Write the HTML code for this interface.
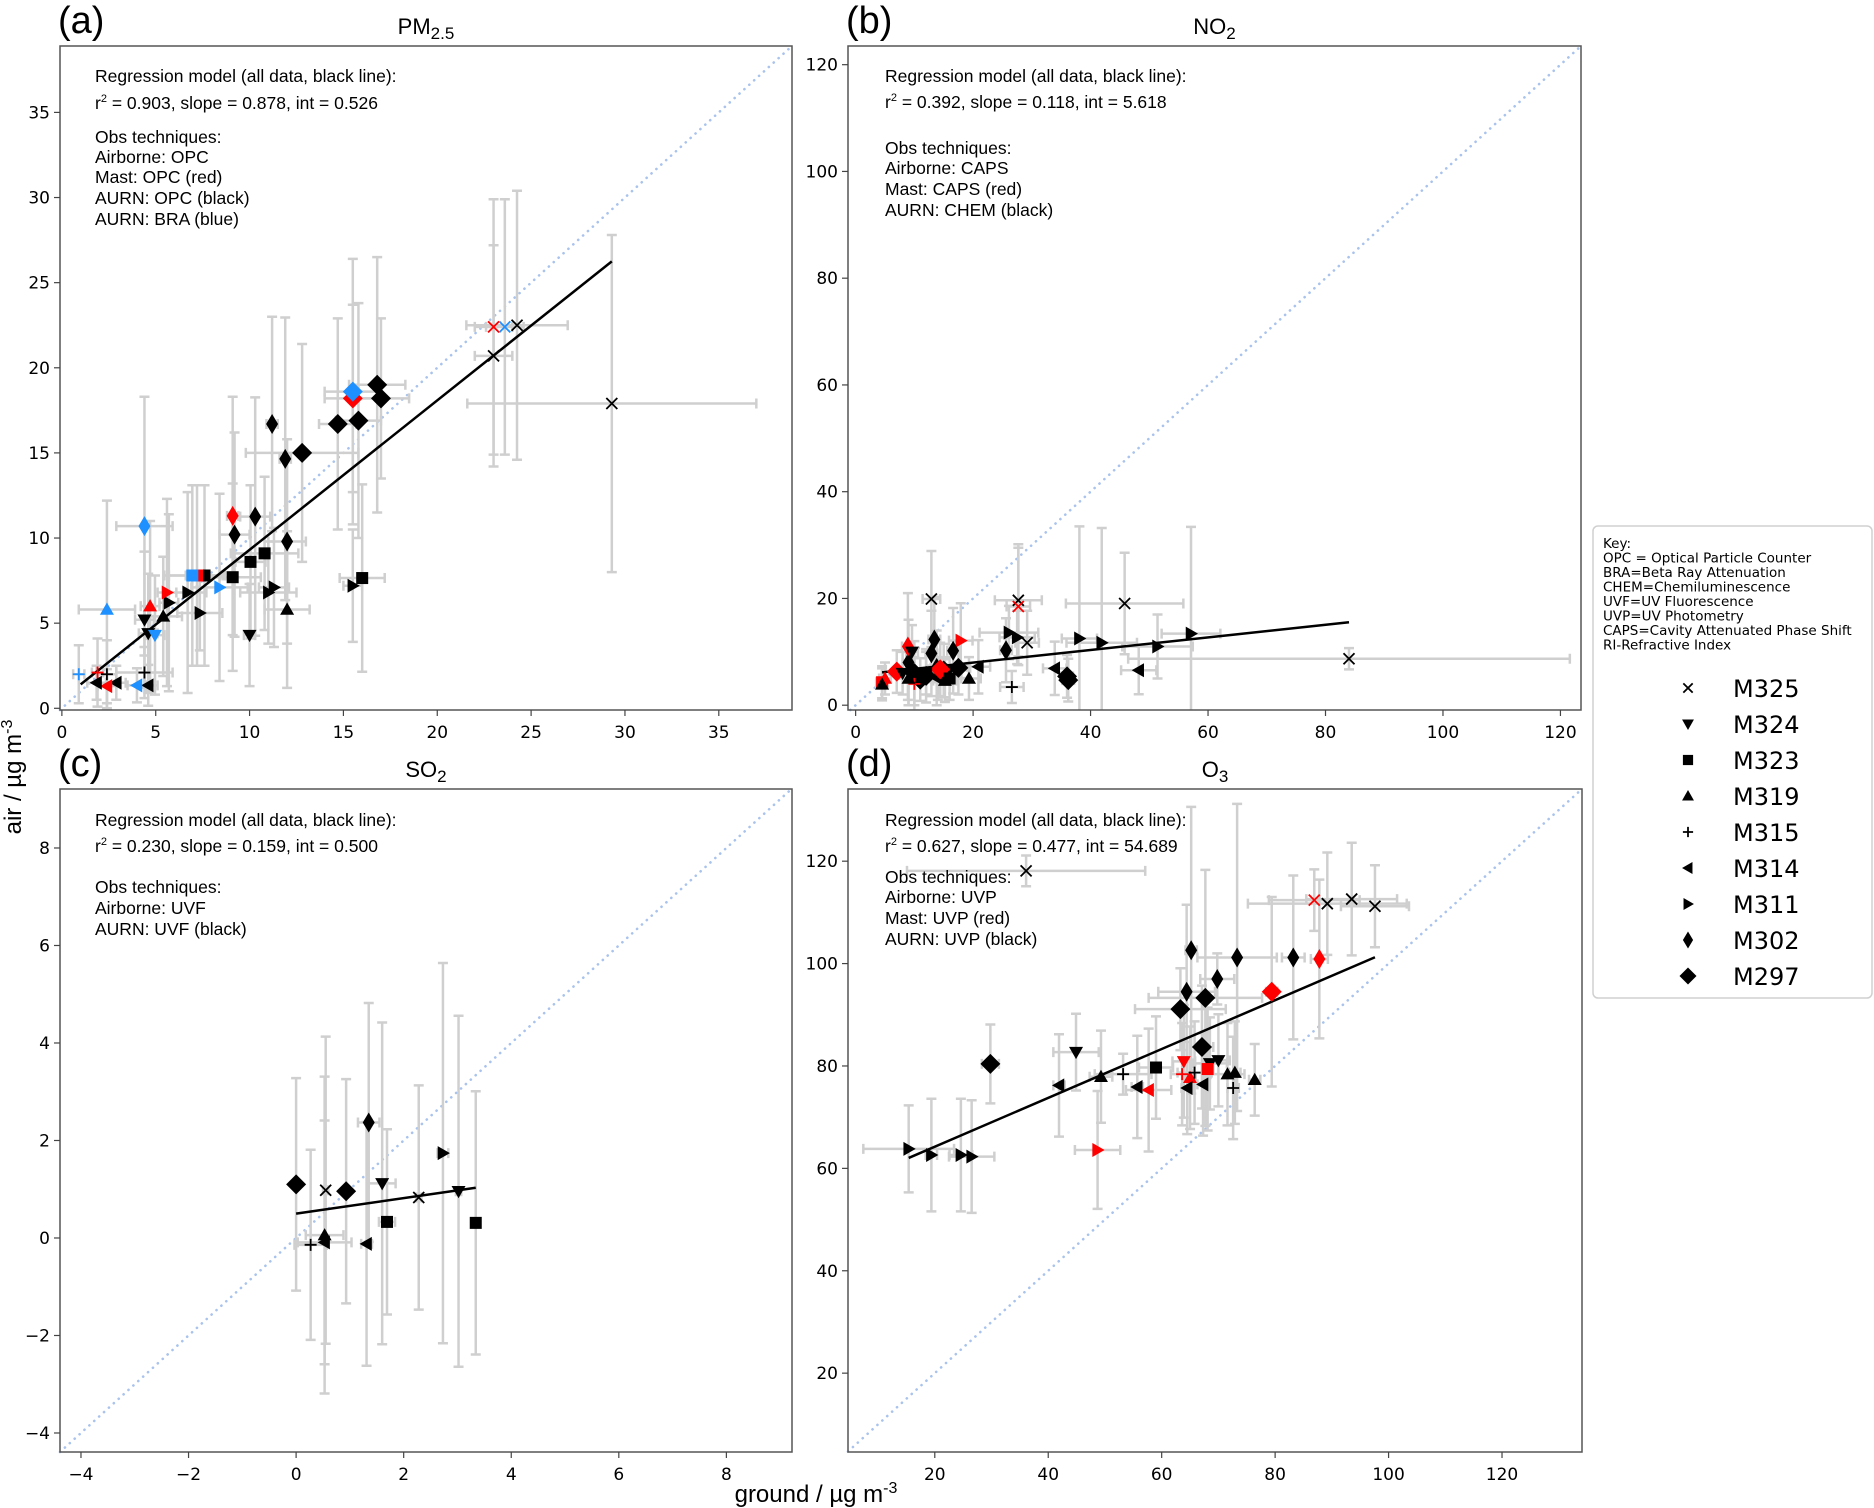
<!DOCTYPE html>
<html><head><meta charset="utf-8"><style>
html,body{margin:0;padding:0;background:#fff;}
svg{display:block;font-family:"Liberation Sans","DejaVu Sans",sans-serif;}
</style></head><body>
<svg id="fig" width="1874" height="1508" viewBox="0 0 1874 1508" xmlns="http://www.w3.org/2000/svg">
<text x="21" y="777" font-size="24" text-anchor="middle" transform="rotate(-90 21 777)">air / µg m<tspan dy="-9" font-size="16">-3</tspan></text>
<text x="816" y="1502" font-size="24" text-anchor="middle">ground / µg m<tspan dy="-9" font-size="16">-3</tspan></text>
<g>
<rect x="1593" y="526" width="279" height="472" rx="5" fill="#fff" stroke="#d0d0d0" stroke-width="1.5"/>
<g font-family="'DejaVu Sans',sans-serif" font-size="13.5" fill="#000">
<text x="1603" y="548">Key:</text>
<text x="1603" y="562.5">OPC = Optical Particle Counter</text>
<text x="1603" y="577">BRA=Beta Ray Attenuation</text>
<text x="1603" y="591.5">CHEM=Chemiluminescence</text>
<text x="1603" y="606">UVF=UV Fluorescence</text>
<text x="1603" y="620.5">UVP=UV Photometry</text>
<text x="1603" y="635">CAPS=Cavity Attenuated Phase Shift</text>
<text x="1603" y="649.5">RI-Refractive Index</text>
</g>
<g id="legend-entries"></g>
</g>
</svg>
<script>
// ---------- PM2.5 data ----------
const pmX=[24.25,23.0,23.6,23.0,29.3,16.8,17.0,14.7,15.8,12.8,11.2,11.9,10.3,9.2,12.0,15.5,9.1,15.5,4.4,10.05,10.8,9.1,16.0,7.6,7.2,6.95,7.35,11.3,11.0,15.5,6.7,5.7,5.6,8.4,12.0,5.4,2.4,4.7,10.0,4.4,4.6,4.96,0.9,4.4,1.9,2.4,2.9,4.6,4.0,2.4,1.85];
const pmY=[22.5,22.4,22.4,20.7,17.9,19.0,18.2,16.7,16.9,15.0,16.7,14.65,11.26,10.2,9.8,18.2,11.3,18.6,10.7,8.6,9.1,7.7,7.65,7.8,7.8,7.8,5.6,7.1,6.8,7.2,6.8,6.2,6.8,7.1,5.8,5.4,5.8,6.0,4.3,5.2,4.4,4.3,2.0,2.1,2.1,2.0,1.5,1.35,1.35,1.3,1.5];
const pmXerr=[2.7,1.0,1.0,1.0,7.7,1.5,1.5,1.0,1.2,3.0,0.3,0.3,0.8,0.8,1.0,1.5,0.3,1.5,1.5,0.8,1.8,1.5,1.2,1.0,1.5,1.5,1.2,0.8,1.5,0.5,1.0,0.5,0.5,1.5,1.2,1.0,1.5,0.5,0.3,0.5,0.5,0.5,0.3,1.5,0.3,0.5,0.5,0.5,0.5,0.5,0.5];
const pmYerr=[7.9,7.5,7.5,6.5,9.9,7.5,4.7,6.2,6.9,6.4,6.3,8.3,7.0,6.0,6.0,5.5,7.0,7.8,7.6,4.5,4.5,5.5,5.5,5.3,5.3,5.3,2.2,3.5,3.0,3.3,5.9,5.2,5.5,5.5,4.6,3.5,6.4,5.0,3.0,4.0,3.5,3.5,1.7,1.5,2.0,2.0,1.0,1.2,1.0,1.0,1.0];
const pmMarker=["x","x","x","x","x","D","D","D","D","D","d","d","d","d","d","D","d","D","d","s","s","s","s","s","s","s",">",">",">",">",">",">",">",">","^","^","^","^","v","v","v","v","+","+","+","+","<","<","<","<","<"];
const pmColor=["k","r","b","k","k","k","k","k","k","k","k","k","k","k","k","r","r","b","b","k","k","k","k","k","r","b","k","k","k","k","k","k","r","b","k","k","b","r","k","k","k","b","b","k","r","k","k","k","b","r","k"];
// ---------- NO2 data ----------
const no2X=[12.9,27.7,27.7,45.8,29.2,84,38.1,41.9,51.4,57.1,26.1,27.5,17.9,33.9,48.2,20.9,14,13.4,12.9,16.6,25.6,36.2,36,10,12,15,17.5,9,11,13.8,8.9,7.0,14.4,4.5,5,26.6,10,4.5,19.3,15.2,9,9.6,8,12,16];
const no2Y=[19.9,19.65,18.5,19.05,11.7,8.7,12.5,11.7,11.0,13.4,13.6,12.7,12.1,6.9,6.55,7.2,5,12.3,9.7,10.2,10.3,4.7,5.4,6,5.5,6.5,7,8,4.8,7,11.0,6.3,6.7,4.3,5,3.4,4,3.9,5.0,4.6,5,10,6,6,5];
const no2Xerr=[1.5,4,2,10,2,37.6,3,6,6,5,5,3,2,2,3,2,2,1,1,1,1,1,1,2,2,2,2,1,2,1,1,2,2,1,1,2,1,1,2,2,2,1,1,2,2];
const no2Yerr=[9,10.5,11,9.5,6,2,21,21.5,6,20,5,5,7,5,4.5,5,4,8,8,8,6,4,4,6,5,5,5,8,4,7,10,4,5,3,3,3,5,3,4,4,5,5,4,4,4];
const no2Marker=["x","x","x","x","x","x",">",">",">",">",">",">",">","<","<","<","<","d","d","d","d","D","D","D","D","D","D","d","D","d","d","D","D","s","^","+","+","^","^","^","^","v","v","s","s"];
const no2Color=["k","k","r","k","k","k","k","k","k","k","k","k","r","k","k","k","k","k","k","k","k","k","k","k","k","k","k","k","k","k","r","r","r","r","r","k","r","k","k","k","k","k","k","k","k"];
// ---------- SO2 data ----------
const so2X=[0,0.93,1.35,0.55,2.28,1.6,3.02,2.73,1.69,3.34,0.53,0.53,1.31,0.27];
const so2Y=[1.1,0.96,2.37,0.98,0.83,1.12,0.96,1.74,0.33,0.31,0.06,-0.09,-0.12,-0.14];
const so2Xerr=[0.05,0.05,0.2,0.05,0.05,0.25,0.05,0.1,0.15,0.05,0.35,0.5,0.1,0.3];
const so2Yerr=[2.18,2.3,2.45,3.15,2.3,3.3,3.6,3.9,1.9,2.7,3.25,2.5,2.5,1.95];
const so2Marker=["D","D","d","x","x","v","v",">","s","s","^","<","<","+"];
const so2Color=["k","k","k","k","k","k","k","k","k","k","k","k","k","k"];
// ---------- O3 data ----------
const o3X=[36.1,86.9,89.2,93.5,97.6,65.2,73.3,83.2,87.8,69.8,64.4,63.3,67.7,67.1,79.4,29.8,44.9,63.9,70,68.5,59.0,68.1,49.3,76.4,72.9,71.6,65,53.2,63.6,65.8,72.6,41.9,55.7,57.7,64.5,67.3,15.4,19.4,24.6,26.5,48.7];
const o3Y=[118.1,112.4,111.7,112.6,111.2,102.6,101.2,101.2,100.9,97.0,94.5,91.1,93.3,83.7,94.5,80.4,82.7,80.9,81.1,80.5,79.7,79.4,77.9,77.3,78.7,78.4,77.7,78.4,78.4,78.7,75.7,76.2,75.9,75.3,75.7,76.4,63.8,62.6,62.6,62.3,63.6];
const o3Xerr=[21,8,14,8,6,1,7,2,1.5,3,5,8,10,2,1,1.5,4,2,2,3,3,1,2,1,1,3,1,5,2,3,1,1,1,4,1,1,8,1,2,4,4];
const o3Yerr=[3,6,10,11,8,28,30,16,15.5,5,17,8,25,12,18.5,7.7,7.5,11,9,9,10,12,9,7,10,10,10,4,10,10,10,10,10,12,9,10,8.5,11,11,11,11.5];
const o3Marker=["x","x","x","x","x","d","d","d","d","d","d","D","D","D","D","D","v","v","v","v","s","s","^","^","^","^","^","+","+","+","+","<","<","<","<","<",">",">",">",">",">"];
const o3Color=["k","r","k","k","k","k","k","k","r","k","k","k","k","k","r","k","k","r","k","k","k","r","k","k","k","k","r","k","r","k","k","k","k","r","k","k","k","k","k","k","r"];
// ---------- regression / ticks ----------
const fitSlope=[0.878,0.118,0.159,0.477];
const fitInt=[0.526,5.618,0.500,54.689];
const fitRange=[[1.0,29.3],[4.5,84],[0,3.34],[15.4,97.6]];
const ticksA=[0,5,10,15,20,25,30,35];
const ticksB=[0,20,40,60,80,100,120];
const ticksC=[-4,-2,0,2,4,6,8];
const ticksDx=[20,40,60,80,100,120];
const ticksDy=[20,40,60,80,100,120];
const legendNames=["M325","M324","M323","M319","M315","M314","M311","M302","M297"];
const legendMarkers=["x","v","s","^","+","<",">","d","D"];

const NS="http://www.w3.org/2000/svg";
const svg=document.getElementById('fig');
const COL={k:"#000",r:"#ff0000",b:"#1e90ff"};
function mk(tag,attrs,parent){const e=document.createElementNS(NS,tag);for(const k in attrs)e.setAttribute(k,attrs[k]);(parent||svg).appendChild(e);return e;}
function marker(g,m,cx,cy,c,scale){
  const s=scale||1;let e;
  if(m==="x"){e=mk('path',{d:`M${cx-5.5*s},${cy-5.5*s}L${cx+5.5*s},${cy+5.5*s}M${cx-5.5*s},${cy+5.5*s}L${cx+5.5*s},${cy-5.5*s}`,stroke:c,'stroke-width':1.8,fill:'none'},g);}
  else if(m==="+"){e=mk('path',{d:`M${cx-6*s},${cy}L${cx+6*s},${cy}M${cx},${cy-6*s}L${cx},${cy+6*s}`,stroke:c,'stroke-width':1.8,fill:'none'},g);}
  else if(m==="s"){e=mk('rect',{x:cx-6*s,y:cy-6*s,width:12*s,height:12*s,fill:c},g);}
  else{let p;const r=7*s;
    if(m==="^")p=[[cx,cy-r],[cx+r,cy+r*0.75],[cx-r,cy+r*0.75]];
    else if(m==="v")p=[[cx,cy+r],[cx+r,cy-r*0.75],[cx-r,cy-r*0.75]];
    else if(m==="<")p=[[cx-r,cy],[cx+r*0.75,cy-r],[cx+r*0.75,cy+r]];
    else if(m===">")p=[[cx+r,cy],[cx-r*0.75,cy-r],[cx-r*0.75,cy+r]];
    else if(m==="d")p=[[cx,cy-10*s],[cx+6*s,cy],[cx,cy+10*s],[cx-6*s,cy]];
    else p=[[cx,cy-10*s],[cx+10*s,cy],[cx,cy+10*s],[cx-10*s,cy]];
    e=mk('polygon',{points:p.map(q=>q.join(',')).join(' '),fill:c},g);}
  return e;
}
function panel(cfg){
  const {L,R,T,B,x0,x1,y0,y1}=cfg;
  const sx=v=>L+(v-x0)/(x1-x0)*(R-L);
  const sy=v=>B-(v-y0)/(y1-y0)*(B-T);
  const g=mk('g',{});
  
  
  const cp='clip-'+cfg.name;
  const cl=mk('clipPath',{id:cp},g);mk('rect',{x:L,y:T,width:R-L,height:B-T},cl);
  const lo=Math.max(x0,y0),hi=Math.min(x1,y1);
  const one=mk('line',{x1:sx(lo),y1:sy(lo),x2:sx(hi),y2:sy(hi),stroke:'#a9c3ec','stroke-width':2.6,'stroke-dasharray':'0.1 6.5','stroke-linecap':'round'},g);
  
  
  const eg=mk('g',{'clip-path':`url(#${cp})`,stroke:'#cfcfcf','stroke-width':2.5,fill:'none'},g);
  
  
  const X=cfg.X,Y=cfg.Y;
  for(let i=0;i<X.length;i++){
    const cx=sx(X[i]),cy=sy(Y[i]);
    const xa=sx(X[i]-cfg.XE[i]),xb=sx(X[i]+cfg.XE[i]),ya=sy(Y[i]-cfg.YE[i]),yb=sy(Y[i]+cfg.YE[i]);
    mk('path',{d:`M${xa},${cy}H${xb}M${xa},${cy-5}V${cy+5}M${xb},${cy-5}V${cy+5}M${cx},${ya}V${yb}M${cx-5},${ya}H${cx+5}M${cx-5},${yb}H${cx+5}`},eg);
  }
  const fr=fitRange[cfg.idx];
  const fl=mk('line',{x1:sx(fr[0]),y1:sy(fitInt[cfg.idx]+fitSlope[cfg.idx]*fr[0]),x2:sx(fr[1]),y2:sy(fitInt[cfg.idx]+fitSlope[cfg.idx]*fr[1]),stroke:'#000','stroke-width':2.5},g);
  
  
  const mg=mk('g',{'clip-path':`url(#${cp})`},g);
  for(let i=0;i<X.length;i++){
    const e=marker(mg,cfg.M[i],sx(X[i]),sy(Y[i]),COL[cfg.C[i]]);
    
    
  }
  const fr2=mk('rect',{x:L,y:T,width:R-L,height:B-T,fill:'none',stroke:'#555','stroke-width':1.5},g);
  
  
  cfg.tx.forEach(v=>{const x=sx(v);mk('line',{x1:x,y1:B,x2:x,y2:B+6,stroke:'#444','stroke-width':1.2},g);
    const t=mk('text',{x:x,y:B+28,'font-size':17,'text-anchor':'middle','font-family':"'DejaVu Sans',sans-serif"},g);t.textContent=String(v).replace('-','\u2212');
    
    });
  cfg.ty.forEach(v=>{const y=sy(v);mk('line',{x1:L-6,y1:y,x2:L,y2:y,stroke:'#444','stroke-width':1.2},g);
    const t=mk('text',{x:L-10,y:y+6,'font-size':17,'text-anchor':'end','font-family':"'DejaVu Sans',sans-serif"},g);t.textContent=String(v).replace('-','\u2212');
    
    });
  const tt=mk('text',{x:(L+R)/2,y:T-12,'font-size':22,'text-anchor':'middle'},g);
  tt.innerHTML=cfg.title;
  
  
  const pl=mk('text',{x:L-2,y:T-13,'font-size':38},g);pl.textContent=cfg.label;
  
  
  const ann=mk('g',{'font-size':17.5},g);
  
  
  cfg.lines.forEach(([txt,y])=>{const t=mk('text',{x:cfg.tx0,y:y},ann);t.innerHTML=txt;});
}
panel({idx:0,name:'panel-pm25',L:60,R:792,T:46,B:710,x0:-0.1,x1:38.9,y0:-0.1,y1:38.9,X:pmX,Y:pmY,XE:pmXerr,YE:pmYerr,M:pmMarker,C:pmColor,tx:ticksA,ty:ticksA,
 title:'PM<tspan font-size="17" dy="5">2.5</tspan>',label:'(a)',tx0:95,
 lines:[['Regression model (all data, black line):',82],['r<tspan font-size="11" dy="-7">2</tspan><tspan dy="7"> = 0.903, slope = 0.878, int = 0.526</tspan>',109],['Obs techniques:',143],['Airborne: OPC',163],['Mast: OPC (red)',183],['AURN: OPC (black)',204],['AURN: BRA (blue)',225]]});
panel({idx:1,name:'panel-no2',L:848,R:1581,T:46,B:710,x0:-1.3,x1:123.5,y0:-0.9,y1:123.5,X:no2X,Y:no2Y,XE:no2Xerr,YE:no2Yerr,M:no2Marker,C:no2Color,tx:ticksB,ty:ticksB,
 title:'NO<tspan font-size="17" dy="5">2</tspan>',label:'(b)',tx0:885,
 lines:[['Regression model (all data, black line):',82],['r<tspan font-size="11" dy="-7">2</tspan><tspan dy="7"> = 0.392, slope = 0.118, int = 5.618</tspan>',108],['Obs techniques:',154],['Airborne: CAPS',174],['Mast: CAPS (red)',195],['AURN: CHEM (black)',216]]});
panel({idx:2,name:'panel-so2',L:60,R:792,T:789,B:1452,x0:-4.39,x1:9.22,y0:-4.39,y1:9.21,X:so2X,Y:so2Y,XE:so2Xerr,YE:so2Yerr,M:so2Marker,C:so2Color,tx:ticksC,ty:ticksC,
 title:'SO<tspan font-size="17" dy="5">2</tspan>',label:'(c)',tx0:95,
 lines:[['Regression model (all data, black line):',826],['r<tspan font-size="11" dy="-7">2</tspan><tspan dy="7"> = 0.230, slope = 0.159, int = 0.500</tspan>',852],['Obs techniques:',893],['Airborne: UVF',914],['AURN: UVF (black)',935]]});
panel({idx:3,name:'panel-o3',L:848,R:1582,T:789,B:1452,x0:4.7,x1:134.1,y0:4.6,y1:134.1,X:o3X,Y:o3Y,XE:o3Xerr,YE:o3Yerr,M:o3Marker,C:o3Color,tx:ticksDx,ty:ticksDy,
 title:'O<tspan font-size="17" dy="5">3</tspan>',label:'(d)',tx0:885,
 lines:[['Regression model (all data, black line):',826],['r<tspan font-size="11" dy="-7">2</tspan><tspan dy="7"> = 0.627, slope = 0.477, int = 54.689</tspan>',852],['Obs techniques:',883],['Airborne: UVP',903],['Mast: UVP (red)',924],['AURN: UVP (black)',945]]});
const lg=document.getElementById('legend-entries');
legendNames.forEach((n,i)=>{
  const y=688+i*36;
  const m=marker(lg,legendMarkers[i],1688,y,'#000',0.85);
  
  
  const t=mk('text',{x:1733,y:y+9,'font-size':24,'font-family':"'DejaVu Sans',sans-serif"},lg);
  t.textContent=n;
  
  
});
</script>
</body></html>
